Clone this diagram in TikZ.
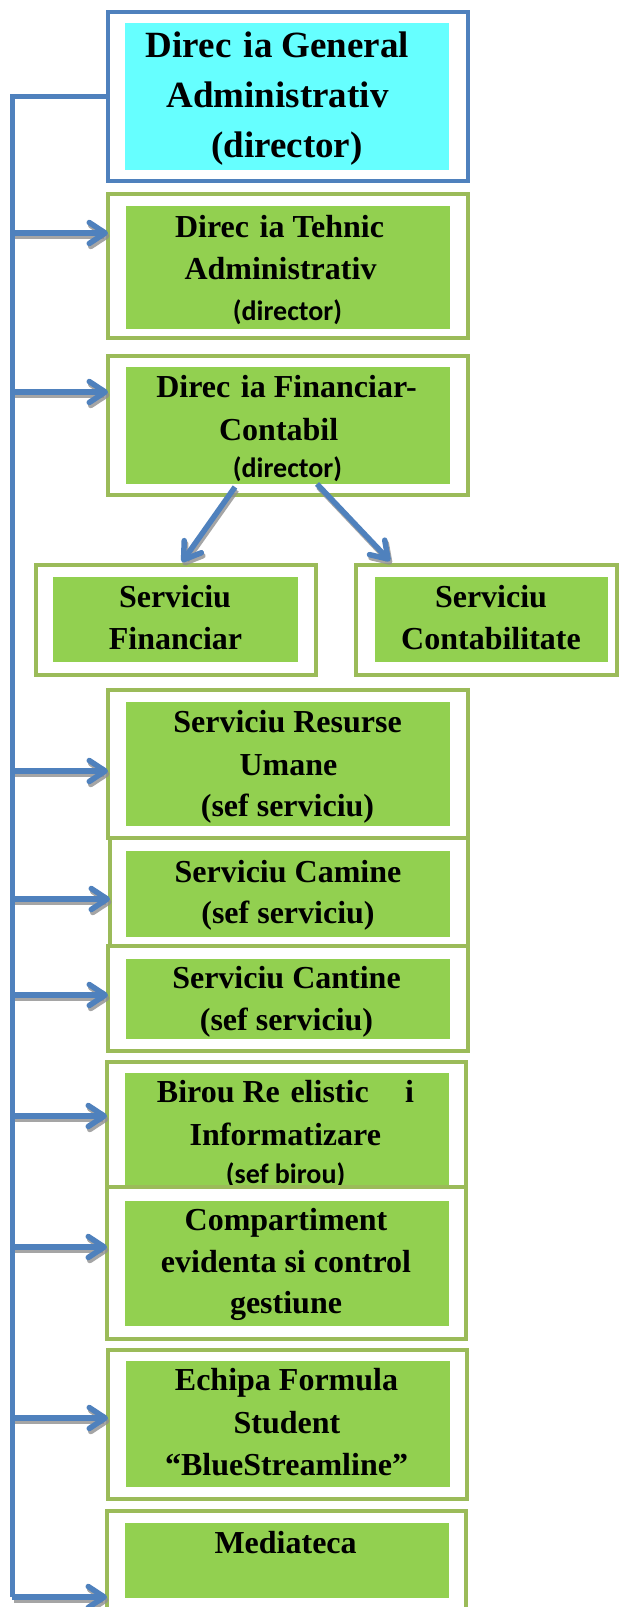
\documentclass[tikz,border=0pt]{standalone}
\usepackage{fontspec}
\setmainfont{Liberation Serif}
\newfontfamily\calib{Carlito}
\usetikzlibrary{arrows.meta,fit}
\definecolor{lnblue}{HTML}{4F81BD}
\definecolor{frgreen}{HTML}{9BBB59}
\definecolor{fillgreen}{HTML}{92D050}
\definecolor{fillcyan}{HTML}{66FFFF}
\definecolor{shadowgray}{HTML}{8F8F8F}
\begin{document}
\begin{tikzpicture}[x=1pt,y=-1pt,
  frame/.style={draw=frgreen, line width=4pt, fill=white, inner sep=0pt, outer sep=0pt},
  bframe/.style={draw=lnblue, line width=4pt, fill=white, inner sep=0pt, outer sep=0pt},
  gfill/.style={fill=fillgreen, inner sep=0pt, outer sep=0pt},
  cfill/.style={fill=fillcyan, inner sep=0pt, outer sep=0pt},
  tx/.style={anchor=base, inner sep=0pt, font=\bfseries\fontsize{32}{32}\selectfont},
  txbig/.style={anchor=base, inner sep=0pt, font=\bfseries\fontsize{37}{37}\selectfont},
  txcal/.style={anchor=base, inner sep=0pt, font=\calib\bfseries\fontsize{28}{28}\selectfont},
  conn/.style={draw=lnblue, line width=5pt},
  arr/.style={draw=lnblue, line width=5.5pt, -{Straight Barb[length=16pt,width=21pt,round]}},
  arrsh/.style={draw=shadowgray, opacity=0.8, line width=5.5pt, transform canvas={xshift=1.5pt,yshift=-3pt}, -{Straight Barb[length=16pt,width=21pt,round]}},
]
\useasboundingbox[fill=white] (0,0) rectangle (619,1607);

% Box 1
\node[bframe, fit={(107.5,12) (468,181)}] (f1) {};
\node[cfill, fit={(125,23) (449,170)}] (i1) {};
\node[txbig] (t1a) at (277.5,57) {Direc\phantom{ţ}ia General};
\node[txbig] (t1b) at (277.5,107) {Administrativ};
\node[txbig] (t1c) at (287,157) {(director)};

% Box 2
\node[frame, fit={(108,194) (468,338)}] (f2) {};
\node[gfill, fit={(125.5,206) (449.5,329)}] (i2) {};
\node[tx] (t2a) at (279.5,237) {Direc\phantom{ţ}ia Tehnic};
\node[tx] (t2b) at (280.5,279) {Administrativ};
\node[txcal] (t2c) at (287.5,320) {(director)};

% Box 3
\node[frame, fit={(108,356) (468,495)}] (f3) {};
\node[gfill, fit={(125.5,367) (449.5,484)}] (i3) {};
\node[tx] (t3a) at (286.5,397) {Direc\phantom{ţ}ia Financiar-};
\node[tx] (t3b) at (278.7,440) {Contabil};
\node[txcal] (t3c) at (287.5,477) {(director)};

% Box 4
\node[frame, fit={(35.5,565) (315.5,675)}] (f4) {};
\node[gfill, fit={(53,577) (298,662)}] (i4) {};
\node[tx] (t4a) at (175,607) {Serviciu};
\node[tx] (t4b) at (175.5,649) {Financiar};

% Box 5
\node[frame, fit={(356,565) (617,675)}] (f5) {};
\node[gfill, fit={(375,577) (608,662)}] (i5) {};
\node[tx] (t5a) at (491,607) {Serviciu};
\node[tx] (t5b) at (491,649) {Contabilitate};

% Box 6
\node[frame, fit={(108,690) (468,838)}] (f6) {};
\node[gfill, fit={(126,702) (450,826)}] (i6) {};
\node[tx] (t6a) at (287.5,732) {Serviciu Resurse};
\node[tx] (t6b) at (288.5,775) {Umane};
\node[tx] (t6c) at (287.5,816) {(sef serviciu)};

% Box 7
\node[frame, fit={(110,838) (468,946)}] (f7) {};
\node[gfill, fit={(126,851) (450,937)}] (i7) {};
\node[tx] (t7a) at (288,882) {Serviciu Camine};
\node[tx] (t7b) at (288,923) {(sef serviciu)};

% Box 8
\node[frame, fit={(108,946) (468,1051)}] (f8) {};
\node[gfill, fit={(125.5,959) (449.5,1039)}] (i8) {};
\node[tx] (t8a) at (286.5,988) {Serviciu Cantine};
\node[tx] (t8b) at (286.5,1030) {(sef serviciu)};

% Box 9
\node[frame, fit={(107,1062) (466,1192)}] (f9) {};
\node[gfill, fit={(125,1073) (449,1192)}] (i9) {};
\node[tx] (t9a) at (285.5,1102) {Birou Re\phantom{ţ}elistic\phantom{ă ş}i};
\node[tx] (t9b) at (285.3,1145) {Informatizare};
\node[txcal] (t9c) at (285.6,1183) {(sef birou)};

% Box 10
\node[frame, fit={(107,1187) (466,1339)}] (f10) {};
\node[gfill, fit={(125,1201) (449,1326)}] (i10) {};
\node[tx] (t10a) at (286,1230) {Compartiment};
\node[tx] (t10b) at (286,1272) {evidenta si control};
\node[tx] (t10c) at (286,1313) {gestiune};

% Box 11
\node[frame, fit={(108,1350) (467,1499)}] (f11) {};
\node[gfill, fit={(125.5,1361) (449.5,1487)}] (i11) {};
\node[tx] (t11a) at (286.5,1390) {Echipa Formula};
\node[tx] (t11b) at (287,1433) {Student};
\node[tx] (t11c) at (286.5,1475) {“BlueStreamline”};

% Box 12
\node[frame, fit={(107,1511) (466,1640)}] (f12) {};
\node[gfill, fit={(125,1523) (449,1598)}] (i12) {};
\node[tx] (t12a) at (285.6,1553) {Mediateca};

% spine coordinates
\coordinate (spt) at (12.3,96.5);
\coordinate (s2) at (12.3,233);
\coordinate (s3) at (12.3,392);
\coordinate (s6) at (12.3,771);
\coordinate (s7) at (12.3,899);
\coordinate (s8) at (12.3,995);
\coordinate (s9) at (12.3,1116);
\coordinate (s10) at (12.3,1247);
\coordinate (s11) at (12.3,1418);
\coordinate (spb) at (12.3,1597);

% shadows
\foreach \s/\f in {s2/f2,s3/f3,s6/f6,s7/f7,s8/f8,s9/f9,s10/f10,s11/f11,spb/f12}{
  \draw[arrsh] (\s) -- (\s -| \f.west);
}

% spine
\draw[conn] (f1.west) -- (spt) -- (spb);
\foreach \s/\f in {s2/f2,s3/f3,s6/f6,s7/f7,s8/f8,s9/f9,s10/f10,s11/f11,spb/f12}{
  \draw[arr] (\s) -- (\s -| \f.west);
}

% diagonal arrows
\coordinate (d1a) at (235,487);
\coordinate (d1b) at (182,562);
\coordinate (d2a) at (317,484);
\coordinate (d2b) at (390,561);
\draw[arrsh] (d1a) -- (d1b);
\draw[arrsh] (d2a) -- (d2b);
\draw[arr] (d1a) -- (d1b);
\draw[arr] (d2a) -- (d2b);
\end{tikzpicture}
\end{document}
